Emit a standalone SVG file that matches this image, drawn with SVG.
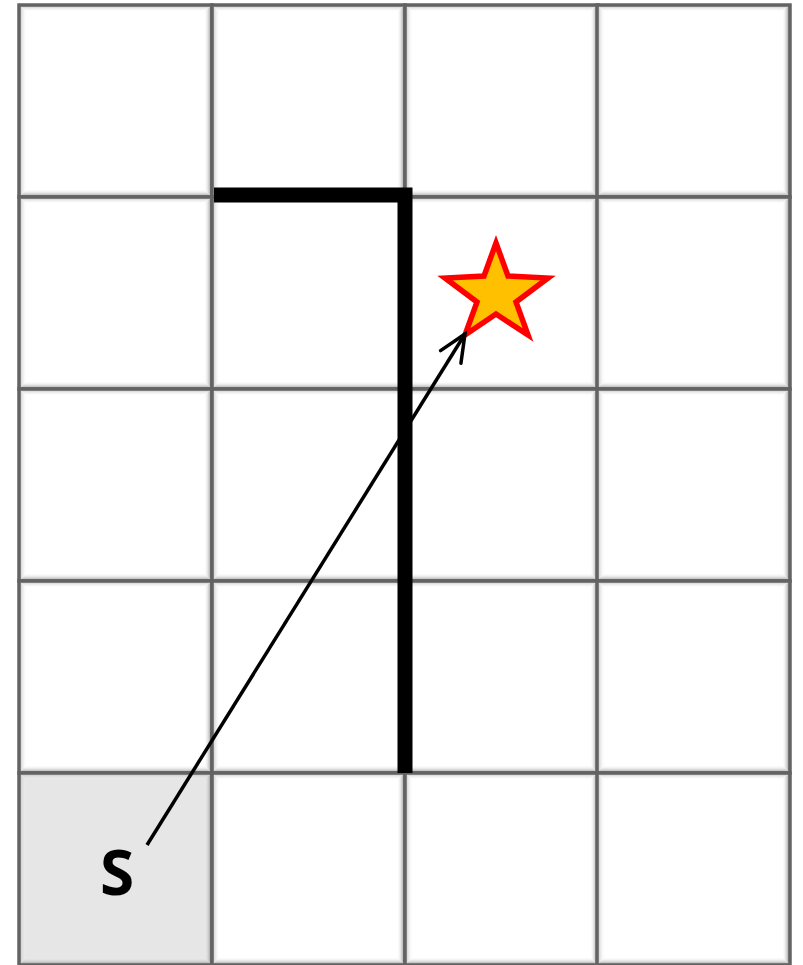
<svg xmlns="http://www.w3.org/2000/svg" xmlns:xlink="http://www.w3.org/1999/xlink" width="803" height="965" viewBox="0 0 803 965">
<style>
.border{fill:none;stroke:#636363;stroke-width:3.5}
.wall{fill:none;stroke:#000;stroke-width:15;stroke-linecap:butt;stroke-linejoin:miter}
.path{fill:none;stroke:#000;stroke-width:3.5}
.lbl{font-family:"Open Sans","Liberation Sans",sans-serif;font-weight:bold;font-size:62px;fill:#000}
</style>
<defs>
<linearGradient id="gr" x1="0" y1="0" x2="1" y2="0"><stop offset="0" stop-color="#fff" stop-opacity="0"/><stop offset="1" stop-color="#7a7a7a"/></linearGradient>
<linearGradient id="gb" x1="0" y1="0" x2="0" y2="1"><stop offset="0" stop-color="#fff" stop-opacity="0"/><stop offset="1" stop-color="#8a8a8a"/></linearGradient>
<linearGradient id="gt" x1="0" y1="0" x2="0" y2="1"><stop offset="0" stop-color="#b0b0b0"/><stop offset="1" stop-color="#fff" stop-opacity="0"/></linearGradient>
<linearGradient id="gl" x1="0" y1="0" x2="1" y2="0"><stop offset="0" stop-color="#b8b8b8"/><stop offset="1" stop-color="#fff" stop-opacity="0"/></linearGradient>
<g id="bevel">
<polygon points="0,0 193,0 185,7 8,7" fill="url(#gt)"/>
<polygon points="0,0 8,7 8,184 0,192" fill="url(#gl)"/>
<polygon points="193,0 193,192 185,184 185,7" fill="url(#gr)"/>
<polygon points="0,192 193,192 185,184 8,184" fill="url(#gb)"/>
<rect x="0" y="0" width="193" height="192" class="border"/>
</g>
<g id="cell"><rect x="0" y="0" width="193" height="192" fill="#fff"/><use xlink:href="#bevel"/></g>
<g id="cellS"><rect x="0" y="0" width="193" height="192" fill="#e6e6e6"/><use xlink:href="#bevel"/></g>
<marker id="arr" markerUnits="userSpaceOnUse" markerWidth="40" markerHeight="40" refX="0" refY="0" viewBox="-30 -15 40 30" orient="auto" overflow="visible">
<path d="M-27,-12 L0,0 L-27,12" fill="none" stroke="#000" stroke-width="3.5" stroke-linecap="round" stroke-linejoin="miter"/>
</marker>
</defs>
<rect width="803" height="965" fill="#fff"/>
<g id="grid">
<use xlink:href="#cell" x="19" y="5"/><use xlink:href="#cell" x="212" y="5"/><use xlink:href="#cell" x="405" y="5"/><use xlink:href="#cell" x="597" y="5"/>
<use xlink:href="#cell" x="19" y="197"/><use xlink:href="#cell" x="212" y="197"/><use xlink:href="#cell" x="405" y="197"/><use xlink:href="#cell" x="597" y="197"/>
<use xlink:href="#cell" x="19" y="389"/><use xlink:href="#cell" x="212" y="389"/><use xlink:href="#cell" x="405" y="389"/><use xlink:href="#cell" x="597" y="389"/>
<use xlink:href="#cell" x="19" y="581"/><use xlink:href="#cell" x="212" y="581"/><use xlink:href="#cell" x="405" y="581"/><use xlink:href="#cell" x="597" y="581"/>
<use xlink:href="#cellS" x="19" y="773"/><use xlink:href="#cell" x="212" y="773"/><use xlink:href="#cell" x="405" y="773"/><use xlink:href="#cell" x="597" y="773"/>
</g>
<g id="wall">
<path class="wall" d="M214,195 L405,195 L405,773"/>
</g>
<g id="start">
<text class="lbl" x="117" y="895" text-anchor="middle">S</text>
</g>
<g id="goal">
<polygon points="496,243 508,276 548,278 516,302 528,335 496,314 465,335 477,302 445,278 484,276" fill="#FFC000" stroke="#FF0000" stroke-width="5.5" stroke-linejoin="miter"/>
</g>
<g id="connectors">
<path class="path" d="M147,845 L465,334" marker-end="url(#arr)"/>
</g>
</svg>
